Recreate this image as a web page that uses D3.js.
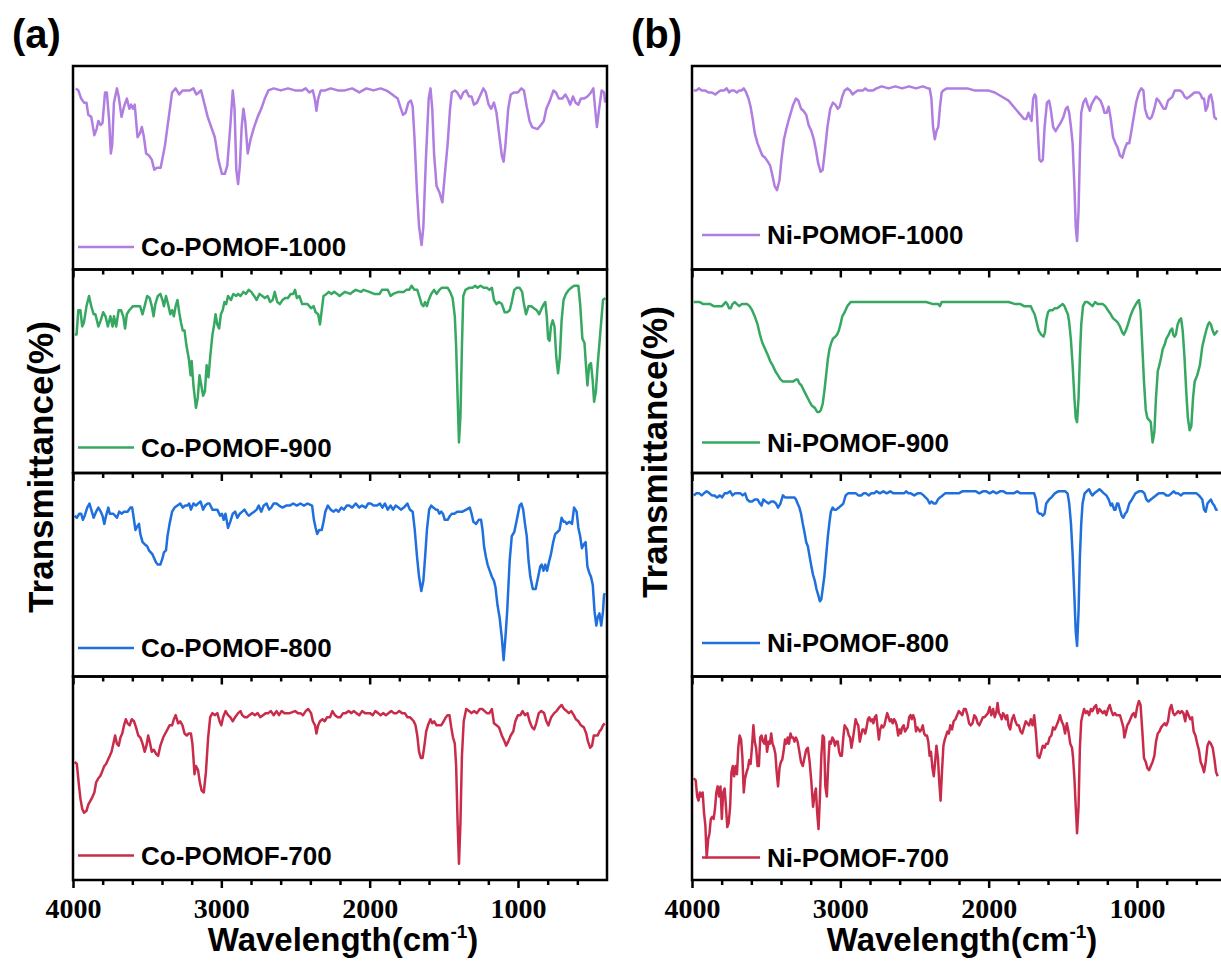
<!DOCTYPE html>
<html>
<head>
<meta charset="utf-8">
<script src="https://cdn.jsdelivr.net/npm/d3@7"></script>
<style>
  body { margin: 0; background: #fff; }
  svg { display: block; }
</style>
</head>
<body>
<div id="chart"></div>
<script>
// FTIR spectra, [wavenumber (cm-1), transmittance (%, arbitrary per sub-panel)]
const coPomof1000 = [[3981,89],[3964,88],[3945,84],[3926,82],[3909,82],[3897,76],[3877,75],[3856,66],[3841,69],[3829,73],[3813,71],[3801,72],[3784,87],[3772,87],[3757,74],[3745,57],[3736,61],[3724,82],[3704,89],[3692,85],[3673,75],[3656,80],[3637,84],[3620,79],[3608,81],[3596,79],[3584,81],[3565,65],[3548,67],[3536,70],[3524,66],[3507,57],[3488,56],[3469,54],[3452,49],[3435,50],[3409,50],[3380,61],[3356,74],[3332,87],[3308,89],[3284,86],[3260,88],[3212,88],[3188,89],[3169,86],[3152,87],[3137,88],[3116,82],[3092,75],[3068,70],[3044,65],[3020,54],[2996,47],[2976,47],[2960,51],[2940,70],[2923,88],[2911,79],[2899,49],[2887,42],[2875,51],[2863,70],[2851,79],[2839,73],[2822,57],[2803,64],[2779,70],[2755,75],[2731,79],[2707,84],[2683,88],[2647,89],[2599,88],[2551,89],[2503,88],[2455,88],[2431,89],[2407,87],[2383,88],[2368,83],[2359,78],[2347,84],[2330,88],[2299,88],[2263,89],[2215,88],[2167,88],[2118,89],[2070,87],[2022,89],[1974,88],[1926,89],[1890,88],[1866,87],[1830,85],[1811,84],[1794,80],[1775,76],[1758,77],[1739,82],[1722,83],[1710,80],[1698,65],[1681,38],[1667,21],[1650,12],[1638,21],[1621,54],[1602,84],[1590,89],[1578,79],[1566,57],[1549,41],[1530,38],[1510,33],[1494,46],[1474,62],[1458,79],[1446,87],[1426,88],[1410,87],[1386,84],[1369,87],[1349,88],[1330,85],[1313,85],[1297,81],[1277,82],[1258,85],[1234,89],[1217,87],[1198,81],[1181,79],[1162,82],[1145,77],[1128,67],[1109,56],[1097,53],[1085,61],[1066,79],[1049,86],[1025,87],[1001,87],[977,89],[960,88],[941,80],[922,73],[905,70],[869,69],[845,71],[826,73],[809,79],[785,83],[761,88],[744,87],[725,84],[701,84],[681,86],[665,84],[648,81],[629,85],[612,82],[593,81],[576,84],[556,84],[532,85],[508,87],[492,89],[480,79],[468,70],[453,79],[436,88],[420,87],[412,82]];

const coPomof900 = [[3988,68],[3976,68],[3964,80],[3950,80],[3938,72],[3926,74],[3909,82],[3892,87],[3877,82],[3861,78],[3849,78],[3829,72],[3813,75],[3796,79],[3781,77],[3765,72],[3748,77],[3733,72],[3724,77],[3709,72],[3692,80],[3676,80],[3661,77],[3649,71],[3637,78],[3620,80],[3596,82],[3579,82],[3548,82],[3531,78],[3517,82],[3500,87],[3483,86],[3469,82],[3457,77],[3445,83],[3428,87],[3411,88],[3397,85],[3387,82],[3373,87],[3356,82],[3344,78],[3332,80],[3320,77],[3308,82],[3296,85],[3284,79],[3272,74],[3260,70],[3248,70],[3236,63],[3219,56],[3207,48],[3200,55],[3188,43],[3171,32],[3159,37],[3147,48],[3135,43],[3123,38],[3111,40],[3099,53],[3087,47],[3075,57],[3060,68],[3048,73],[3039,78],[3027,73],[3015,71],[3003,78],[2991,80],[2979,84],[2967,83],[2955,87],[2935,85],[2919,88],[2899,87],[2887,88],[2871,87],[2851,89],[2835,88],[2815,90],[2798,89],[2779,87],[2762,85],[2743,88],[2724,87],[2707,86],[2688,87],[2671,84],[2654,85],[2640,89],[2623,84],[2606,83],[2587,85],[2570,86],[2551,86],[2532,88],[2515,88],[2503,90],[2491,86],[2474,87],[2455,83],[2436,83],[2419,83],[2395,81],[2378,82],[2364,79],[2347,78],[2335,73],[2323,80],[2311,87],[2291,88],[2275,89],[2258,88],[2239,89],[2219,88],[2203,87],[2186,88],[2167,89],[2130,88],[2114,89],[2094,90],[2058,89],[2042,90],[2003,89],[1969,88],[1933,88],[1917,90],[1878,90],[1859,87],[1842,88],[1806,89],[1787,89],[1770,89],[1753,90],[1734,90],[1717,92],[1698,90],[1679,90],[1662,86],[1650,83],[1638,82],[1626,84],[1614,82],[1602,85],[1585,88],[1566,90],[1549,88],[1530,90],[1513,91],[1474,91],[1458,89],[1441,86],[1426,77],[1417,62],[1407,37],[1398,15],[1388,28],[1378,62],[1369,87],[1354,90],[1330,91],[1306,91],[1289,92],[1273,91],[1253,92],[1229,91],[1210,91],[1193,90],[1176,91],[1162,85],[1145,83],[1128,84],[1109,83],[1090,79],[1073,79],[1056,80],[1042,84],[1025,90],[1008,91],[989,91],[972,89],[960,83],[946,78],[929,82],[912,82],[893,81],[874,80],[857,78],[840,81],[826,83],[816,84],[806,77],[797,66],[787,65],[778,72],[766,75],[754,72],[742,57],[730,49],[718,57],[706,75],[693,85],[677,88],[657,90],[641,91],[622,92],[605,92],[593,92],[581,83],[566,66],[552,64],[542,53],[532,43],[520,53],[508,54],[496,45],[487,35],[475,40],[463,53],[444,70],[427,85],[412,86]];

const coPomof800 = [[3988,79],[3974,78],[3957,80],[3945,80],[3933,77],[3921,79],[3904,83],[3889,85],[3873,81],[3861,78],[3844,81],[3829,83],[3813,81],[3801,79],[3789,75],[3777,79],[3762,83],[3752,80],[3740,80],[3728,80],[3716,79],[3704,78],[3688,81],[3673,80],[3656,81],[3632,81],[3613,83],[3601,83],[3589,77],[3579,72],[3565,74],[3555,75],[3546,70],[3531,66],[3517,65],[3500,64],[3488,62],[3476,61],[3464,60],[3452,58],[3440,56],[3428,55],[3411,55],[3397,58],[3387,61],[3373,62],[3363,69],[3349,75],[3332,81],[3315,83],[3296,84],[3277,85],[3260,83],[3243,84],[3229,84],[3217,85],[3205,82],[3188,85],[3171,84],[3157,85],[3140,86],[3123,82],[3109,84],[3092,85],[3080,85],[3060,82],[3044,82],[3027,82],[3008,79],[2996,80],[2984,77],[2972,80],[2955,73],[2940,76],[2923,80],[2907,81],[2892,78],[2875,80],[2859,81],[2844,82],[2827,80],[2815,79],[2798,80],[2779,81],[2762,82],[2748,84],[2731,81],[2714,84],[2695,85],[2678,82],[2664,83],[2647,85],[2628,85],[2611,84],[2587,83],[2563,84],[2539,84],[2515,85],[2491,84],[2467,85],[2443,84],[2419,85],[2388,84],[2376,77],[2364,73],[2354,70],[2340,72],[2323,72],[2311,76],[2299,81],[2282,84],[2263,82],[2243,81],[2227,82],[2210,81],[2191,83],[2174,82],[2154,84],[2138,84],[2118,83],[2094,85],[2070,83],[2051,84],[2027,83],[2010,85],[1993,85],[1974,84],[1950,84],[1931,85],[1914,83],[1897,85],[1878,82],[1859,84],[1842,82],[1825,84],[1806,83],[1789,82],[1770,83],[1758,84],[1746,85],[1729,82],[1710,81],[1696,72],[1681,59],[1667,49],[1652,42],[1638,47],[1626,59],[1614,72],[1599,82],[1585,84],[1571,83],[1554,82],[1542,82],[1530,80],[1518,81],[1506,80],[1494,77],[1474,77],[1458,79],[1446,80],[1429,80],[1410,81],[1393,81],[1374,81],[1349,82],[1325,83],[1313,80],[1301,76],[1282,75],[1265,77],[1249,77],[1239,72],[1229,64],[1217,59],[1205,55],[1191,52],[1176,49],[1162,47],[1152,44],[1138,35],[1124,29],[1109,19],[1097,8],[1085,19],[1073,32],[1056,57],[1042,69],[1025,71],[1008,77],[989,84],[977,85],[965,82],[953,75],[941,69],[929,57],[917,49],[900,43],[881,43],[864,49],[850,54],[840,55],[828,52],[816,55],[804,52],[792,56],[778,60],[763,66],[749,70],[734,71],[720,72],[706,78],[691,76],[681,76],[672,75],[653,76],[636,75],[622,83],[605,81],[593,73],[581,69],[569,63],[556,65],[544,66],[532,54],[520,51],[508,49],[496,45],[484,32],[472,25],[463,29],[451,31],[439,25],[427,32],[420,40],[415,41]];

const coPomof700 = [[3988,58],[3974,57],[3962,48],[3950,40],[3938,35],[3926,33],[3909,34],[3897,37],[3882,39],[3868,41],[3856,43],[3844,48],[3829,50],[3817,51],[3805,53],[3789,56],[3777,57],[3765,59],[3752,61],[3740,63],[3728,67],[3716,71],[3704,67],[3692,66],[3680,70],[3668,72],[3656,76],[3644,79],[3632,77],[3618,76],[3604,79],[3589,78],[3575,75],[3560,71],[3546,70],[3531,67],[3517,63],[3505,66],[3493,71],[3483,68],[3469,63],[3455,64],[3440,62],[3426,61],[3411,66],[3392,70],[3378,72],[3363,74],[3349,76],[3332,76],[3320,79],[3308,81],[3291,77],[3277,78],[3262,76],[3248,72],[3233,71],[3219,72],[3205,72],[3195,67],[3188,60],[3181,52],[3171,56],[3157,54],[3145,48],[3133,44],[3118,43],[3104,53],[3089,70],[3075,80],[3060,82],[3044,81],[3027,82],[3012,78],[3000,76],[2988,80],[2971,83],[2955,81],[2940,80],[2923,78],[2907,80],[2887,82],[2871,83],[2859,81],[2844,80],[2827,80],[2811,81],[2791,82],[2774,81],[2755,82],[2738,80],[2719,81],[2700,82],[2683,82],[2666,83],[2647,81],[2628,83],[2611,81],[2594,83],[2575,82],[2539,82],[2503,83],[2484,82],[2467,82],[2450,81],[2431,83],[2414,84],[2395,82],[2383,78],[2368,76],[2359,72],[2347,76],[2335,78],[2318,79],[2303,78],[2287,80],[2267,80],[2251,83],[2234,81],[2215,80],[2198,80],[2179,82],[2162,82],[2142,83],[2123,82],[2106,83],[2090,82],[2070,81],[2051,83],[2032,82],[1998,82],[1979,81],[1962,83],[1943,82],[1926,81],[1909,82],[1890,81],[1873,82],[1854,83],[1837,82],[1818,82],[1801,83],[1782,82],[1763,82],[1746,80],[1729,80],[1715,79],[1703,78],[1691,76],[1679,71],[1667,63],[1655,60],[1643,60],[1631,66],[1619,73],[1607,76],[1590,79],[1578,77],[1566,78],[1549,76],[1535,76],[1518,76],[1501,78],[1486,80],[1474,81],[1462,81],[1450,75],[1438,70],[1426,67],[1417,56],[1407,28],[1398,8],[1388,28],[1378,61],[1366,78],[1349,84],[1330,83],[1313,82],[1297,83],[1277,82],[1258,84],[1241,84],[1225,83],[1210,82],[1193,82],[1176,84],[1162,77],[1145,76],[1128,75],[1109,71],[1090,68],[1080,66],[1066,68],[1049,71],[1032,73],[1018,78],[1001,81],[984,81],[969,83],[953,81],[936,82],[922,78],[905,75],[891,74],[877,77],[860,82],[843,83],[824,82],[809,78],[795,76],[776,80],[756,82],[740,83],[720,85],[706,86],[689,84],[672,83],[657,82],[641,83],[624,81],[610,79],[593,78],[576,76],[556,75],[540,72],[528,68],[513,65],[501,66],[489,71],[475,71],[463,71],[451,73],[439,74],[427,76],[415,77]];

const niPomof1000 = [[3988,88],[3970,88],[3954,89],[3935,88],[3912,88],[3889,87],[3866,87],[3843,86],[3827,87],[3808,88],[3785,88],[3766,89],[3750,87],[3734,88],[3716,88],[3697,87],[3681,88],[3665,88],[3651,89],[3635,87],[3619,84],[3605,80],[3591,74],[3577,67],[3558,62],[3542,59],[3526,56],[3508,55],[3489,53],[3473,51],[3457,46],[3443,41],[3427,39],[3410,44],[3397,54],[3380,64],[3364,69],[3350,73],[3334,77],[3318,81],[3299,84],[3283,83],[3265,79],[3249,78],[3230,76],[3214,71],[3195,68],[3179,64],[3165,59],[3149,52],[3133,48],[3119,49],[3103,59],[3087,70],[3068,79],[3050,82],[3034,81],[3017,79],[3004,80],[2987,85],[2971,88],[2953,89],[2934,88],[2918,86],[2902,87],[2883,88],[2865,88],[2849,88],[2832,89],[2814,88],[2795,88],[2779,88],[2756,89],[2721,90],[2675,89],[2629,90],[2583,89],[2537,90],[2490,89],[2444,90],[2409,89],[2398,89],[2386,84],[2375,70],[2363,64],[2352,68],[2340,70],[2328,80],[2317,87],[2305,88],[2282,89],[2236,89],[2190,89],[2143,89],[2097,88],[2051,88],[2005,88],[1959,87],[1913,85],[1866,83],[1820,79],[1785,76],[1762,74],[1746,74],[1732,77],[1723,75],[1711,73],[1700,84],[1690,86],[1681,85],[1670,70],[1658,54],[1646,53],[1635,54],[1623,70],[1607,82],[1593,83],[1582,79],[1565,70],[1549,68],[1533,70],[1515,72],[1496,75],[1480,79],[1468,80],[1457,77],[1445,70],[1434,62],[1422,41],[1413,21],[1404,14],[1394,29],[1385,57],[1376,77],[1362,82],[1346,84],[1334,81],[1318,78],[1307,81],[1293,83],[1276,85],[1260,84],[1246,83],[1230,80],[1219,77],[1205,77],[1191,80],[1177,74],[1161,65],[1145,62],[1131,60],[1115,56],[1099,55],[1084,59],[1068,62],[1052,62],[1038,68],[1022,75],[1006,82],[987,87],[971,89],[957,88],[946,79],[930,75],[913,74],[900,75],[883,79],[867,84],[853,83],[837,81],[821,79],[807,79],[791,83],[775,84],[761,85],[745,88],[710,88],[694,87],[680,85],[664,84],[645,85],[629,86],[613,87],[599,87],[583,87],[571,86],[560,84],[548,84],[537,78],[525,80],[514,85],[502,86],[490,82],[479,75],[467,74],[460,74]];

const niPomof900 = [[3988,84],[3970,84],[3947,84],[3924,83],[3901,83],[3877,83],[3854,82],[3831,82],[3813,82],[3797,82],[3785,83],[3773,84],[3762,83],[3750,81],[3739,81],[3727,83],[3711,84],[3697,83],[3681,82],[3665,83],[3646,83],[3628,83],[3612,82],[3595,80],[3577,77],[3558,73],[3542,68],[3526,64],[3508,61],[3489,58],[3473,55],[3457,53],[3438,50],[3420,48],[3404,46],[3387,45],[3369,45],[3350,45],[3334,45],[3316,45],[3299,46],[3288,46],[3276,44],[3262,43],[3249,41],[3235,39],[3221,37],[3207,35],[3191,33],[3172,32],[3156,30],[3142,30],[3131,31],[3119,34],[3108,40],[3096,48],[3084,56],[3073,61],[3061,64],[3050,66],[3034,67],[3022,68],[3010,70],[2999,73],[2987,77],[2971,79],[2953,82],[2930,84],[2906,84],[2883,84],[2826,84],[2756,84],[2687,84],[2606,84],[2513,84],[2421,84],[2375,83],[2340,83],[2328,82],[2317,84],[2236,84],[2143,84],[2051,84],[1959,84],[1866,84],[1820,83],[1785,83],[1762,82],[1746,82],[1732,82],[1716,82],[1704,80],[1690,78],[1676,74],[1663,70],[1646,68],[1630,67],[1621,69],[1612,75],[1600,79],[1589,80],[1570,80],[1554,81],[1538,81],[1519,82],[1501,83],[1489,82],[1478,80],[1466,78],[1457,74],[1445,65],[1434,53],[1422,37],[1413,27],[1404,25],[1394,37],[1385,57],[1376,73],[1364,82],[1350,84],[1334,84],[1316,83],[1300,82],[1283,84],[1265,83],[1246,83],[1230,83],[1214,82],[1196,80],[1177,78],[1161,76],[1145,75],[1131,74],[1115,72],[1099,69],[1089,68],[1075,70],[1061,73],[1045,77],[1029,80],[1015,82],[999,84],[987,85],[976,80],[964,62],[953,45],[941,31],[930,27],[918,26],[907,25],[895,15],[883,20],[872,37],[860,50],[849,53],[837,57],[826,61],[814,63],[802,66],[786,68],[775,70],[763,71],[756,68],[747,67],[738,68],[726,73],[715,75],[703,76],[692,70],[680,57],[668,40],[657,27],[645,21],[634,23],[622,37],[611,45],[594,48],[576,53],[560,62],[544,67],[530,71],[521,73],[512,74],[502,73],[490,70],[479,68],[467,69],[456,70]];

const niPomof800 = [[3988,89],[3970,90],[3951,90],[3935,89],[3919,90],[3901,91],[3882,90],[3866,89],[3850,89],[3831,88],[3813,89],[3797,88],[3780,90],[3762,90],[3743,91],[3727,89],[3711,90],[3692,90],[3674,90],[3658,89],[3642,90],[3628,87],[3612,86],[3595,86],[3577,87],[3558,87],[3542,85],[3531,84],[3519,87],[3503,86],[3484,85],[3466,86],[3450,86],[3434,85],[3420,83],[3404,85],[3387,89],[3373,88],[3357,88],[3341,88],[3323,88],[3309,88],[3299,87],[3288,85],[3276,83],[3265,80],[3253,75],[3242,71],[3230,66],[3219,64],[3207,59],[3195,54],[3184,50],[3172,47],[3161,43],[3149,40],[3138,37],[3128,38],[3119,43],[3108,49],[3096,59],[3084,69],[3073,76],[3064,81],[3052,83],[3041,82],[3027,82],[3010,83],[2994,84],[2980,85],[2964,89],[2948,90],[2930,90],[2911,90],[2895,90],[2879,89],[2860,89],[2842,90],[2826,90],[2809,89],[2791,90],[2772,90],[2756,91],[2733,90],[2710,91],[2687,90],[2664,91],[2641,90],[2617,90],[2594,90],[2571,90],[2555,91],[2541,90],[2525,90],[2502,89],[2479,90],[2456,90],[2439,89],[2426,88],[2412,87],[2398,85],[2386,86],[2370,85],[2356,85],[2342,87],[2328,88],[2310,89],[2294,90],[2271,90],[2248,90],[2224,90],[2201,90],[2178,91],[2155,91],[2132,91],[2109,91],[2086,91],[2063,90],[2039,91],[2016,91],[1993,90],[1970,91],[1947,90],[1924,91],[1901,91],[1878,90],[1855,90],[1831,90],[1808,91],[1785,90],[1762,90],[1746,90],[1727,90],[1709,90],[1693,90],[1681,87],[1670,81],[1658,80],[1646,80],[1635,79],[1623,80],[1612,85],[1593,87],[1577,88],[1554,90],[1531,91],[1508,91],[1485,91],[1468,90],[1457,85],[1445,75],[1434,60],[1422,39],[1413,22],[1404,15],[1394,32],[1385,59],[1376,75],[1367,85],[1353,90],[1339,91],[1323,92],[1311,90],[1300,89],[1288,90],[1270,91],[1253,92],[1237,91],[1223,90],[1207,89],[1191,87],[1177,84],[1168,85],[1154,82],[1145,82],[1135,85],[1126,85],[1115,82],[1103,79],[1092,78],[1080,80],[1068,81],[1052,85],[1034,87],[1011,90],[987,91],[964,91],[950,90],[937,87],[923,86],[907,87],[890,88],[872,89],[853,90],[837,90],[821,90],[802,89],[784,89],[768,90],[752,91],[738,90],[722,90],[705,89],[687,90],[668,90],[652,90],[636,90],[618,90],[599,90],[583,89],[571,88],[560,87],[548,82],[537,81],[525,85],[514,86],[502,87],[490,85],[479,84],[467,82],[456,82]];

const niPomof700 = [[3988,50],[3975,49],[3965,41],[3956,39],[3947,43],[3938,41],[3928,43],[3919,33],[3910,27],[3901,11],[3891,20],[3882,23],[3873,30],[3864,31],[3854,30],[3845,35],[3836,43],[3827,46],[3817,41],[3808,46],[3799,30],[3790,43],[3780,45],[3771,36],[3762,26],[3753,28],[3743,36],[3734,53],[3725,56],[3716,51],[3706,56],[3697,52],[3688,65],[3679,71],[3669,69],[3660,60],[3651,43],[3642,50],[3632,53],[3623,55],[3614,59],[3605,57],[3595,66],[3586,76],[3577,68],[3568,65],[3558,56],[3549,56],[3540,70],[3531,71],[3521,68],[3512,67],[3503,71],[3494,63],[3484,68],[3475,67],[3466,72],[3457,67],[3447,65],[3438,62],[3429,53],[3420,46],[3410,55],[3401,58],[3392,59],[3383,63],[3373,69],[3364,67],[3355,70],[3346,67],[3336,72],[3327,70],[3318,70],[3309,68],[3299,70],[3288,68],[3276,63],[3265,58],[3253,56],[3242,60],[3230,64],[3219,65],[3207,58],[3195,48],[3184,36],[3175,41],[3165,45],[3156,33],[3147,25],[3138,40],[3128,61],[3119,71],[3110,70],[3101,46],[3091,41],[3082,56],[3073,68],[3064,67],[3054,70],[3045,69],[3036,66],[3027,68],[3017,68],[3008,63],[2999,61],[2990,61],[2980,70],[2971,76],[2962,75],[2953,74],[2943,71],[2934,70],[2925,65],[2916,69],[2906,74],[2897,79],[2888,77],[2879,76],[2869,68],[2860,71],[2851,74],[2842,74],[2832,72],[2823,75],[2814,79],[2805,80],[2795,78],[2786,79],[2777,77],[2768,80],[2758,81],[2749,75],[2740,69],[2731,74],[2721,76],[2712,75],[2703,76],[2694,79],[2684,82],[2675,80],[2666,78],[2657,79],[2647,77],[2638,79],[2629,78],[2620,76],[2610,71],[2601,74],[2592,72],[2583,75],[2573,76],[2564,73],[2555,74],[2546,75],[2536,80],[2527,81],[2518,79],[2509,81],[2499,79],[2490,73],[2481,75],[2472,74],[2463,73],[2453,74],[2444,76],[2435,72],[2426,71],[2416,71],[2407,68],[2398,61],[2389,63],[2379,55],[2370,51],[2361,58],[2352,66],[2342,60],[2333,48],[2324,39],[2315,53],[2305,66],[2296,69],[2287,71],[2278,73],[2268,72],[2259,76],[2247,74],[2236,78],[2224,79],[2213,81],[2201,83],[2190,82],[2178,81],[2167,84],[2155,84],[2143,81],[2132,77],[2120,76],[2109,77],[2097,81],[2086,80],[2074,77],[2063,76],[2051,78],[2039,80],[2028,80],[2016,81],[2005,82],[1993,85],[1982,81],[1970,84],[1959,80],[1947,83],[1940,87],[1931,82],[1922,81],[1912,79],[1903,82],[1894,81],[1885,79],[1875,81],[1866,76],[1855,74],[1843,79],[1831,81],[1820,78],[1808,76],[1797,76],[1785,73],[1774,72],[1762,75],[1750,78],[1739,77],[1727,76],[1716,79],[1704,76],[1693,81],[1681,72],[1670,61],[1658,60],[1646,63],[1635,66],[1623,65],[1612,67],[1600,67],[1589,70],[1577,71],[1566,75],[1554,74],[1542,76],[1531,78],[1519,81],[1508,78],[1496,76],[1485,72],[1473,77],[1462,73],[1450,67],[1438,65],[1431,60],[1422,50],[1413,36],[1404,23],[1394,36],[1385,65],[1376,78],[1367,81],[1357,84],[1346,82],[1334,83],[1323,81],[1311,84],[1300,83],[1288,85],[1276,86],[1265,82],[1253,84],[1242,83],[1230,82],[1219,83],[1207,81],[1196,84],[1184,86],[1172,83],[1161,81],[1149,82],[1138,81],[1126,81],[1115,81],[1103,78],[1092,75],[1085,70],[1075,73],[1066,76],[1057,77],[1045,79],[1034,81],[1022,82],[1011,80],[999,85],[987,88],[976,86],[964,73],[953,60],[941,58],[930,55],[918,54],[907,56],[895,58],[883,61],[872,68],[860,72],[849,73],[837,75],[826,76],[814,77],[802,76],[791,78],[779,84],[768,86],[756,82],[747,81],[733,82],[722,83],[710,82],[698,83],[687,82],[675,78],[664,83],[652,81],[641,79],[629,80],[618,73],[606,71],[594,67],[583,64],[571,58],[560,56],[548,53],[537,58],[525,66],[514,68],[502,67],[490,65],[479,60],[467,53],[456,51]];

const seriesNames = [
  ["Co-POMOF-1000", "Co-POMOF-900", "Co-POMOF-800", "Co-POMOF-700"],
  ["Ni-POMOF-1000", "Ni-POMOF-900", "Ni-POMOF-800", "Ni-POMOF-700"]
];
const seriesData = [
  [coPomof1000, coPomof900, coPomof800, coPomof700],
  [niPomof1000, niPomof900, niPomof800, niPomof700]
];
const seriesColors = ["#b07de0", "#36a862", "#1f70dd", "#c92c4a"];
const panelLabels = ["(a)", "(b)"];
const majorTicks = [4000, 3000, 2000, 1000];
const minorTicks = [3800, 3600, 3400, 3200, 2800, 2600, 2400, 2200, 1800, 1600, 1400, 1200, 800, 600];
const xDomain = [4000, 400];

// layout
const W = 1221, H = 963;
const panelLeft = [73, 692];
const plotW = 534;
const plotTop = 66, plotBottom = 880;
const subH = (plotBottom - plotTop) / 4;
const legendDy = [[181, 178, 175, 179], [169, 173, 170, 181]];
const legendX = [[5, 61, 68], [10, 68, 75]];
const yTitleMid = [467, 452];
const yTitleOff = [33, 38];

const svg = d3.select("#chart").append("svg")
  .attr("width", W).attr("height", H);

const line = d3.line();

panelLabels.forEach((lab, p) => {
  const left = panelLeft[p];
  const g = svg.append("g");

  const x = d3.scaleLinear().domain(xDomain).range([left, left + plotW]);

  seriesData[p].forEach((data, i) => {
    const top = plotTop + i * subH;
    const bottom = top + subH;
    const y = d3.scaleLinear().domain([0, 100]).range([bottom, top]);

    // spectrum
    g.append("path")
      .datum(data)
      .attr("fill", "none")
      .attr("stroke", seriesColors[i])
      .attr("stroke-width", 2.5)
      .attr("stroke-linejoin", "round")
      .attr("d", line.x(d => x(d[0])).y(d => y(d[1])));

    // bottom axis of each sub-panel, ticks outward
    const ax = g.append("g")
      .attr("transform", "translate(0," + bottom + ")")
      .call(d3.axisBottom(x).tickValues(majorTicks).tickSize(8).tickSizeOuter(0)
        .tickFormat(i === 3 ? d3.format("d") : ""));
    ax.select(".domain").remove();
    ax.selectAll(".tick line").attr("stroke", "#000").attr("stroke-width", 2.5);
    ax.selectAll(".tick text")
      .attr("fill", "#000")
      .style("font-family", "'Liberation Serif', 'Times New Roman', serif")
      .style("font-weight", "bold")
      .style("font-size", "28px")
      .attr("dy", "0.95em")
      .attr("y", 11);

    const axm = g.append("g")
      .attr("transform", "translate(0," + bottom + ")")
      .call(d3.axisBottom(x).tickValues(minorTicks).tickSize(5).tickFormat(""));
    axm.select(".domain").remove();
    axm.selectAll(".tick line").attr("stroke", "#000").attr("stroke-width", 2.5);

    // frame
    g.append("rect")
      .attr("x", left).attr("y", top)
      .attr("width", plotW).attr("height", subH)
      .attr("fill", "none").attr("stroke", "#000").attr("stroke-width", 2.5);

    // legend
    const ly = top + legendDy[p][i];
    g.append("line")
      .attr("x1", left + legendX[p][0]).attr("x2", left + legendX[p][1])
      .attr("y1", ly).attr("y2", ly)
      .attr("stroke", seriesColors[i]).attr("stroke-width", 2.4);
    g.append("text")
      .attr("x", left + legendX[p][2]).attr("y", ly)
      .attr("dy", "0.36em")
      .style("font-family", "'Liberation Sans', Arial, sans-serif")
      .style("font-weight", "bold")
      .style("font-size", "26px")
      .text(seriesNames[p][i]);
  });

  // axis titles
  const xt = g.append("text")
    .attr("x", left + plotW / 2 + 3).attr("y", 951)
    .attr("text-anchor", "middle")
    .style("font-family", "'Liberation Sans', Arial, sans-serif")
    .style("font-weight", "bold")
    .style("font-size", "33px");
  xt.append("tspan").text("Wavelength(cm");
  xt.append("tspan").attr("dy", -13).style("font-size", "19px").text("-1");
  xt.append("tspan").attr("dy", 13).text(")");

  g.append("text")
    .attr("transform", "translate(" + (left - yTitleOff[p]) + "," + yTitleMid[p] + ") rotate(-90)")
    .attr("text-anchor", "middle")
    .attr("dy", "0.36em")
    .style("font-family", "'Liberation Sans', Arial, sans-serif")
    .style("font-weight", "bold")
    .style("font-size", "35px")
    .text("Transmittance(%)");

  g.append("text")
    .attr("x", left - 61).attr("y", 48)
    .style("font-family", "'Liberation Sans', Arial, sans-serif")
    .style("font-weight", "bold")
    .style("font-size", "40px")
    .text(lab);
});
</script>
</body>
</html>
